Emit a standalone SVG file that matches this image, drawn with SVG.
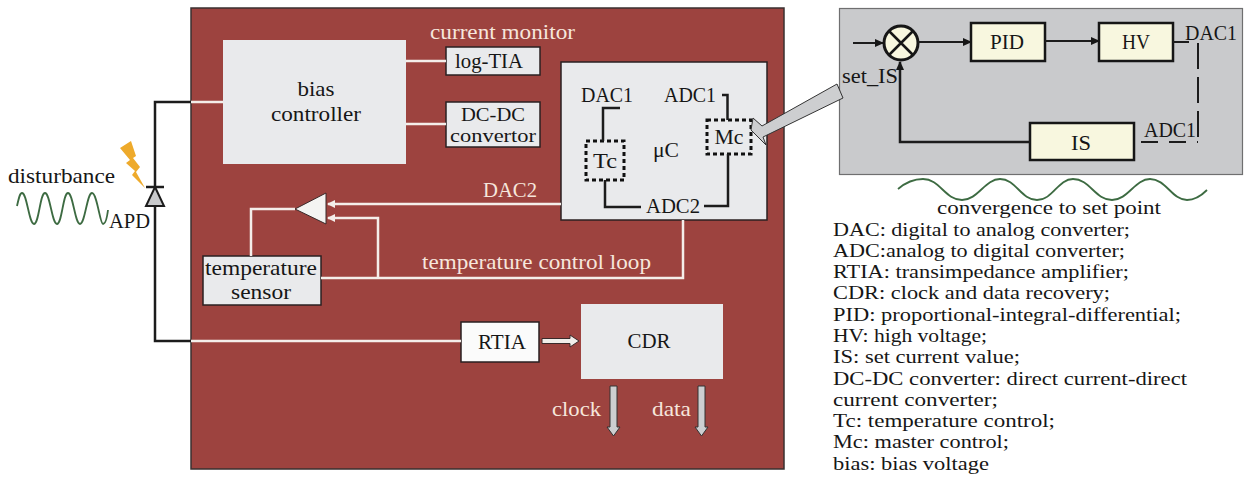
<svg xmlns="http://www.w3.org/2000/svg" width="1245" height="477" viewBox="0 0 1245 477">
<defs>
<style>
text{font-family:"Liberation Serif","DejaVu Serif",serif;font-size:21px;fill:#161616}
.m{text-anchor:middle}
.s{font-size:18.800px}
.w{fill:#f6e6dc}
.box{fill:#e9eaec}
.boxk{fill:#e9eaec;stroke:#2a2022;stroke-width:1.5}
.yel{fill:#f8f7df;stroke:#161616;stroke-width:2.5}
.wl{fill:none;stroke:#f4eeea;stroke-width:2.5}
.kl{fill:none;stroke:#1c1c1c;stroke-width:2.5}
.kt{fill:none;stroke:#1c1c1c;stroke-width:2}
.dash{fill:none;stroke:#111;stroke-width:3;stroke-dasharray:4 3}
.wave{fill:none;stroke:#3d6b42;stroke-width:1.8}
.gr{fill:#cdced0;stroke:#333;stroke-width:1}
</style>
<marker id="wh" markerWidth="8" markerHeight="8" refX="7" refY="4" orient="auto" markerUnits="userSpaceOnUse" viewBox="0 0 8 8"><path d="M0 0L8 4L0 8Z" fill="#f4eeea"/></marker>
<marker id="kh" markerWidth="9" markerHeight="8" refX="8" refY="4" orient="auto" markerUnits="userSpaceOnUse" viewBox="0 0 9 8"><path d="M0 0L9 4L0 8Z" fill="#161616"/></marker>
</defs>

<rect id="board" x="191" y="8" width="593" height="461" fill="#9d433f" stroke="#3a3030" stroke-width="1.5"/>

<g id="panel"><rect x="839.500" y="8.500" width="403" height="166" fill="#c9cacc" stroke="#6f6f70" stroke-width="1.2"/></g>

<g id="bias-controller"><rect class="box" x="223" y="40" width="183" height="124"/><text class="m" x="316" y="96" textLength="37" lengthAdjust="spacingAndGlyphs">bias</text><text class="m" x="316" y="121" textLength="90" lengthAdjust="spacingAndGlyphs">controller</text></g>
<g id="current-monitor"><text class="w" x="430" y="39" textLength="145" lengthAdjust="spacingAndGlyphs">current monitor</text></g>
<g id="log-tia"><rect class="boxk" x="446" y="47" width="94" height="28"/><text class="m" x="489" y="68" textLength="68" lengthAdjust="spacingAndGlyphs">log-TIA</text></g>
<g id="dc-dc"><rect class="boxk" x="446" y="102" width="94" height="45"/><text class="m s" x="493" y="121" textLength="64" lengthAdjust="spacingAndGlyphs">DC-DC</text><text class="m s" x="493" y="142" textLength="86" lengthAdjust="spacingAndGlyphs">convertor</text></g>

<g id="uc"><rect class="boxk" x="561" y="62" width="206" height="158"/>
<text x="581" y="102" textLength="52" lengthAdjust="spacingAndGlyphs">DAC1</text>
<text x="664" y="102" textLength="52" lengthAdjust="spacingAndGlyphs">ADC1</text>
<text class="m" x="666" y="157" textLength="26" lengthAdjust="spacingAndGlyphs">μC</text>
<text x="646" y="213" textLength="54" lengthAdjust="spacingAndGlyphs">ADC2</text>
</g>
<g id="tc"><rect class="dash" x="586" y="141" width="38" height="39"/><text class="m" x="605" y="168" textLength="24" lengthAdjust="spacingAndGlyphs">Tc</text></g>
<g id="mc"><rect class="dash" x="707" y="120" width="44" height="34"/><text class="m" x="729" y="144" textLength="29" lengthAdjust="spacingAndGlyphs">Mc</text></g>

<g id="amp"><path d="M295 209L326 193V224Z" fill="#f4f4f2" stroke="#3a2a2a" stroke-width="1"/></g>
<g id="temp-sensor"><rect class="boxk" x="203" y="256" width="118" height="49"/><text class="m" x="261" y="275" textLength="112" lengthAdjust="spacingAndGlyphs">temperature</text><text class="m" x="261" y="299" textLength="60" lengthAdjust="spacingAndGlyphs">sensor</text></g>
<text class="w" x="483" y="197" textLength="54" lengthAdjust="spacingAndGlyphs">DAC2</text>
<text class="w" x="422" y="269" textLength="229" lengthAdjust="spacingAndGlyphs">temperature control loop</text>

<g id="rtia"><rect x="461" y="322" width="78" height="40" fill="#fbfbfb" stroke="#2a2022" stroke-width="1.500"/><text class="m" x="502" y="349" textLength="48" lengthAdjust="spacingAndGlyphs">RTIA</text></g>
<g id="cdr"><rect class="box" x="581" y="304" width="142" height="75"/><text class="m" x="649" y="348" textLength="43" lengthAdjust="spacingAndGlyphs">CDR</text></g>
<g id="clock"><path class="gr" d="M610 386H617V427H620L613.500 436L607 427H610Z"/><text class="w" x="552" y="416" textLength="49" lengthAdjust="spacingAndGlyphs">clock</text></g>
<g id="data"><path class="gr" d="M698 386H705V427H708L701.500 436L695 427H698Z"/><text class="w" x="652" y="416" textLength="39" lengthAdjust="spacingAndGlyphs">data</text></g>

<g id="apd"><path d="M155 187L164 206H146Z" fill="#c9cacc" stroke="#1c1c1c" stroke-width="2"/><path class="kl" d="M146 187H164"/><text x="109" y="228" textLength="41" lengthAdjust="spacingAndGlyphs">APD</text></g>
<path id="bolt" d="M120 148L131 141L136 156L133 158L140 167L136 172L145 188L132 175L135 171L126 163L130 160Z" fill="#eeaa2b"/>
<g id="disturbance"><text x="8" y="183" textLength="107" lengthAdjust="spacingAndGlyphs">disturbance</text>
<path class="wave" d="M17 206C19 197 20 193 22 193C27 193 29 224 34 224C39 224 40 193 45 193C50 193 52 224 57 224C62 224 63 193 68 193C73 193 75 224 80 224C85 224 87 193 92 193C97 193 100 224 103 224C105 224 107 218 108 210"/></g>

<g id="sum"><circle cx="901" cy="43" r="17" fill="#f8f7df" stroke="#161616" stroke-width="3"/><path d="M889 31L913 55M913 31L889 55" stroke="#161616" stroke-width="2.500"/></g>
<text x="842" y="83" textLength="56" lengthAdjust="spacingAndGlyphs">set_IS</text>
<g id="pid"><rect class="yel" x="971" y="23" width="74" height="38"/><text class="m" x="1007" y="49" textLength="34" lengthAdjust="spacingAndGlyphs">PID</text></g>
<g id="hv"><rect class="yel" x="1099" y="23" width="74" height="38"/><text class="m" x="1136" y="49" textLength="28" lengthAdjust="spacingAndGlyphs">HV</text></g>
<g id="is"><rect class="yel" x="1030" y="123" width="104" height="37"/><text class="m" x="1081" y="150" textLength="20" lengthAdjust="spacingAndGlyphs">IS</text></g>
<text x="1185" y="40" textLength="52" lengthAdjust="spacingAndGlyphs">DAC1</text>
<text x="1144" y="137" textLength="52" lengthAdjust="spacingAndGlyphs">ADC1</text>
<path class="wave" d="M898 189C905 183 912 179 923 179C940 179 945 200 962 200C978 200 985 179 1000 179C1016 179 1021 200 1037 200C1053 200 1058 179 1073 179C1090 179 1095 200 1112 200C1128 200 1135 179 1150 179C1166 179 1172 200 1187 200C1196 200 1202 195 1207 190"/>
<text class="s" x="937" y="214" textLength="224" lengthAdjust="spacingAndGlyphs">convergence to set point</text>

<g id="connectors">
<path class="kl" d="M191 102H155V187M155 206V341H191"/>
<path class="wl" d="M191 102H223M191 341H461M406 61H446M406 124H446"/>
<path class="wl" d="M561 204H328" marker-end="url(#wh)"/>
<path class="wl" d="M321 278H683V220"/>
<path class="wl" d="M378 278V218H328" marker-end="url(#wh)"/>
<path class="wl" d="M251 256V209H295"/>
<path class="kl" d="M620 108H603V141M722 95H727.500V120M728 154V206H704M605 180V207H641"/>
<path class="kt" d="M853 43H883" marker-end="url(#kh)"/>
<path class="kt" d="M918 42H971" marker-end="url(#kh)"/>
<path class="kt" d="M1045 41H1099" marker-end="url(#kh)"/>
<path class="kt" d="M1173 42H1189"/>
<path class="kl" d="M1030 142H900V62" marker-end="url(#kh)"/>
<path fill="none" stroke="#1c1c1c" stroke-width="2" stroke-dasharray="26 8" d="M1198 43V143"/>
<path fill="none" stroke="#1c1c1c" stroke-width="2" stroke-dasharray="17 11" d="M1141 142H1198"/>
<path d="M542 338.500H570V335L579 341L570 347V343.500H542Z" fill="#f1eeea" stroke="#3a2a2a" stroke-width="1"/>
<path id="pointer" class="gr" d="M837 84L843 98L763 137L766 145L751 130L753 118L762 126Z"/>
</g>

<g id="legend">
<text class="s" x="833" y="236" textLength="297" lengthAdjust="spacingAndGlyphs">DAC: digital to analog converter;</text>
<text class="s" x="833" y="257" textLength="292" lengthAdjust="spacingAndGlyphs">ADC:analog to digital converter;</text>
<text class="s" x="833" y="278" textLength="296" lengthAdjust="spacingAndGlyphs">RTIA: transimpedance amplifier;</text>
<text class="s" x="833" y="299" textLength="277" lengthAdjust="spacingAndGlyphs">CDR: clock and data recovery;</text>
<text class="s" x="833" y="321" textLength="348" lengthAdjust="spacingAndGlyphs">PID: proportional-integral-differential;</text>
<text class="s" x="833" y="342" textLength="154" lengthAdjust="spacingAndGlyphs">HV: high voltage;</text>
<text class="s" x="833" y="363" textLength="187" lengthAdjust="spacingAndGlyphs">IS: set current value;</text>
<text class="s" x="833" y="385" textLength="354" lengthAdjust="spacingAndGlyphs">DC-DC converter: direct current-direct</text>
<text class="s" x="833" y="406" textLength="165" lengthAdjust="spacingAndGlyphs">current converter;</text>
<text class="s" x="833" y="427" textLength="222" lengthAdjust="spacingAndGlyphs">Tc: temperature control;</text>
<text class="s" x="833" y="448" textLength="176" lengthAdjust="spacingAndGlyphs">Mc: master control;</text>
<text class="s" x="833" y="470" textLength="156" lengthAdjust="spacingAndGlyphs">bias: bias voltage</text>
</g>
</svg>
